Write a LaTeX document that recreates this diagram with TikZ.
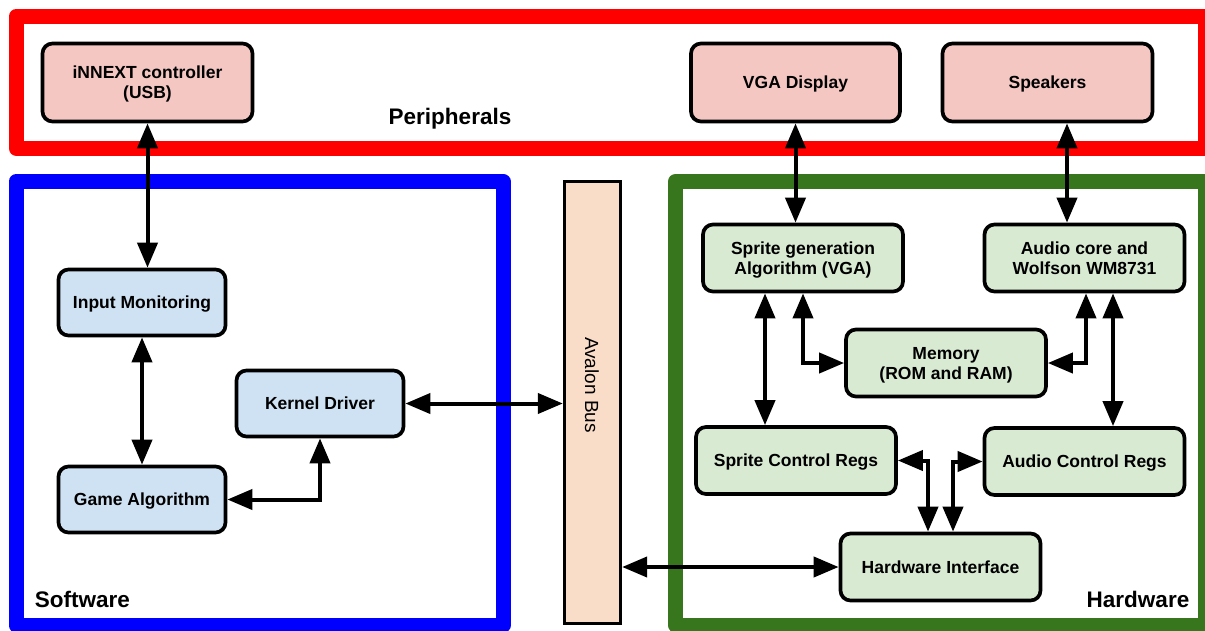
\documentclass[tikz,border=0pt]{standalone}
\usepackage{fontspec}
\setmainfont{Liberation Sans}
\usetikzlibrary{arrows.meta}
\definecolor{pinkfill}{HTML}{F4C7C3}
\definecolor{bluefill}{HTML}{CFE2F3}
\definecolor{greenfill}{HTML}{D9EAD3}
\definecolor{busfill}{HTML}{FADDC9}
\definecolor{frgreen}{HTML}{38761D}
\definecolor{frblue}{HTML}{0000FF}
\definecolor{frred}{HTML}{FF0000}
\begin{document}
\begin{tikzpicture}[x=1pt,y=-1pt,
  frame/.style={line width=15pt, line join=round},
  box/.style={draw=black, line width=3.7pt, rounded corners=10pt, align=center,
    font=\bfseries\fontsize{17.5}{20}\selectfont, inner sep=0pt, text depth=0pt},
  pinkbox/.style={box, fill=pinkfill, minimum width=210pt, minimum height=78pt},
  bluebox/.style={box, fill=bluefill, minimum width=167pt, minimum height=66pt},
  greenbox/.style={box, fill=greenfill, minimum width=200pt, minimum height=67pt},
  biglabel/.style={font=\bfseries\fontsize{22.5}{26}\selectfont, anchor=base, inner sep=0pt},
  conn/.style={line width=4pt, {Triangle[length=25pt,width=20pt]}-{Triangle[length=25pt,width=20pt]}}
]
\useasboundingbox (0,0) rectangle (1205,630);
% frames
\draw[frame, draw=frred] (16.5,16) rectangle (1205,148.5);
\draw[frame, draw=frblue] (16,181.5) rectangle (503,625);
\draw[frame, draw=frgreen] (675.5,181.5) rectangle (1205,625);
% labels
\node[biglabel] (lperi) at (450,124.5) {Peripherals};
\node[biglabel] (lsoft) at (82.5,607) {Software};
\node[biglabel] (lhard) at (1138,607) {Hardware};
% peripherals
\node[pinkbox] (inn) at (147.5,82.5) {iNNEXT controller\\(USB)};
\node[pinkbox, minimum width=209pt] (vga) at (795.5,82.5) {VGA Display};
\node[pinkbox] (spk) at (1047.5,82.5) {Speakers};
% software
\node[bluebox] (inp) at (142,302.5) {Input Monitoring};
\node[bluebox] (kd) at (320,403.5) {Kernel Driver};
\node[bluebox] (game) at (142,499.5) {Game Algorithm};
% bus
\node[draw=black, line width=3.3pt, fill=busfill, minimum width=56pt, minimum height=442pt, inner sep=0pt] (bus) at (592.5,402.5) {};
\node[rotate=-90, font=\fontsize{19}{22}\selectfont, inner sep=0pt] (buslabel) at (592,385) {Avalon Bus};
% hardware
\node[greenbox] (sg) at (803,258) {Sprite generation\\Algorithm (VGA)};
\node[greenbox] (ac) at (1084.5,258) {Audio core and\\Wolfson WM8731};
\node[greenbox] (mem) at (946,363) {Memory\\(ROM and RAM)};
\node[greenbox] (scr) at (796,460.5) {Sprite Control Regs};
\node[greenbox] (acr) at (1084.5,461.5) {Audio Control Regs};
\node[greenbox] (hi) at (940.5,567) {Hardware Interface};
% connectors
\draw[conn] (inn.south) -- (inn.south |- inp.north);
\draw[conn] (inp.south) -- (game.north);
\draw[conn] (game.east) -| (kd.south);
\draw[conn] (kd.east) -- (kd.east -| bus.west);
\draw[conn] (vga.south) -- (vga.south |- sg.north);
\draw[conn] ([xshift=19.5pt]spk.south) -- ([xshift=19.5pt]spk.south |- ac.north);
\draw[conn] ([xshift=-38pt]sg.south) -- ([xshift=-38pt]sg.south |- scr.north);
\draw[conn] (sg.south) |- (mem.west);
\draw[conn] ([xshift=1.5pt]ac.south) |- (mem.east);
\draw[conn] ([xshift=28.5pt]ac.south) -- ([xshift=28.5pt]ac.south |- acr.north);
\draw[conn] (scr.east) -| ([xshift=-12.5pt]hi.north);
\draw[conn] (acr.west) -| ([xshift=12.5pt]hi.north);
\draw[conn] (hi.west) -- (hi.west -| bus.east);
\end{tikzpicture}
\end{document}
